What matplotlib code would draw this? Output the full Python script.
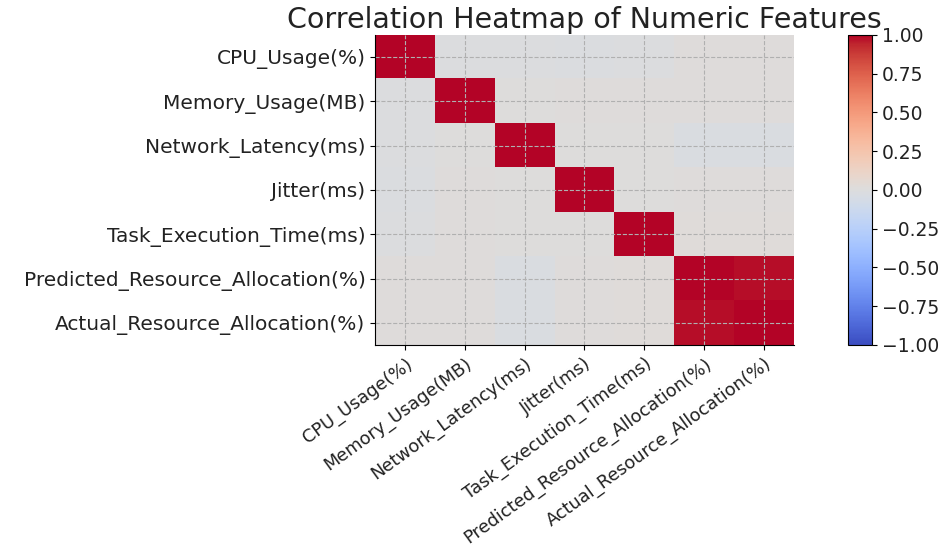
import numpy as np
import matplotlib.pyplot as plt

features = ["CPU_Usage(%)", "Memory_Usage(MB)", "Network_Latency(ms)", "Jitter(ms)",
            "Task_Execution_Time(ms)", "Predicted_Resource_Allocation(%)",
            "Actual_Resource_Allocation(%)"]

# correlation matrix
corr = np.array([
    [1.00, -0.01, -0.01, -0.02, -0.01, 0.01, 0.01],
    [-0.01, 1.00, 0.00, 0.01, 0.01, 0.01, 0.01],
    [-0.01, 0.00, 1.00, 0.00, 0.00, -0.03, -0.03],
    [-0.02, 0.01, 0.00, 1.00, 0.00, 0.01, 0.01],
    [-0.01, 0.01, 0.00, 0.00, 1.00, 0.02, 0.02],
    [0.01, 0.01, -0.03, 0.01, 0.02, 1.00, 0.98],
    [0.01, 0.01, -0.03, 0.01, 0.02, 0.98, 1.00],
])
cbar_ticks = [-1, -0.75, -0.5, -0.25, 0, 0.25, 0.5, 0.75, 1]

txt = "#222222"
fig = plt.figure(figsize=(9.45, 5.52), dpi=100)
ax = fig.add_axes([0.397, 0.375, 0.443, 0.562])
im = ax.imshow(corr, cmap="coolwarm", vmin=-1, vmax=1, aspect="auto")

ax.set_xticks(range(len(features)))
ax.set_yticks(range(len(features)))
ax.set_xticklabels(features, rotation=36, ha="right", rotation_mode="anchor",
                   fontsize=12.8, color=txt)
ax.set_yticklabels(features, fontsize=14.5, color=txt)
ax.grid(True, linestyle="--", color="#b0b0b0", linewidth=0.8)
for s in ["top", "right"]:
    ax.spines[s].set_visible(False)
ax.set_title("Correlation Heatmap of Numeric Features", fontsize=20.5, pad=5, color=txt)

cax = fig.add_axes([0.897, 0.375, 0.026, 0.562])
cb = fig.colorbar(im, cax=cax)
cb.set_ticks(cbar_ticks)
cb.ax.set_yticklabels([f"{v:.2f}".replace("-", "\u2212") for v in cbar_ticks])
cb.ax.tick_params(labelsize=13.5, labelcolor=txt)

fig.savefig("out.png", dpi=100)
